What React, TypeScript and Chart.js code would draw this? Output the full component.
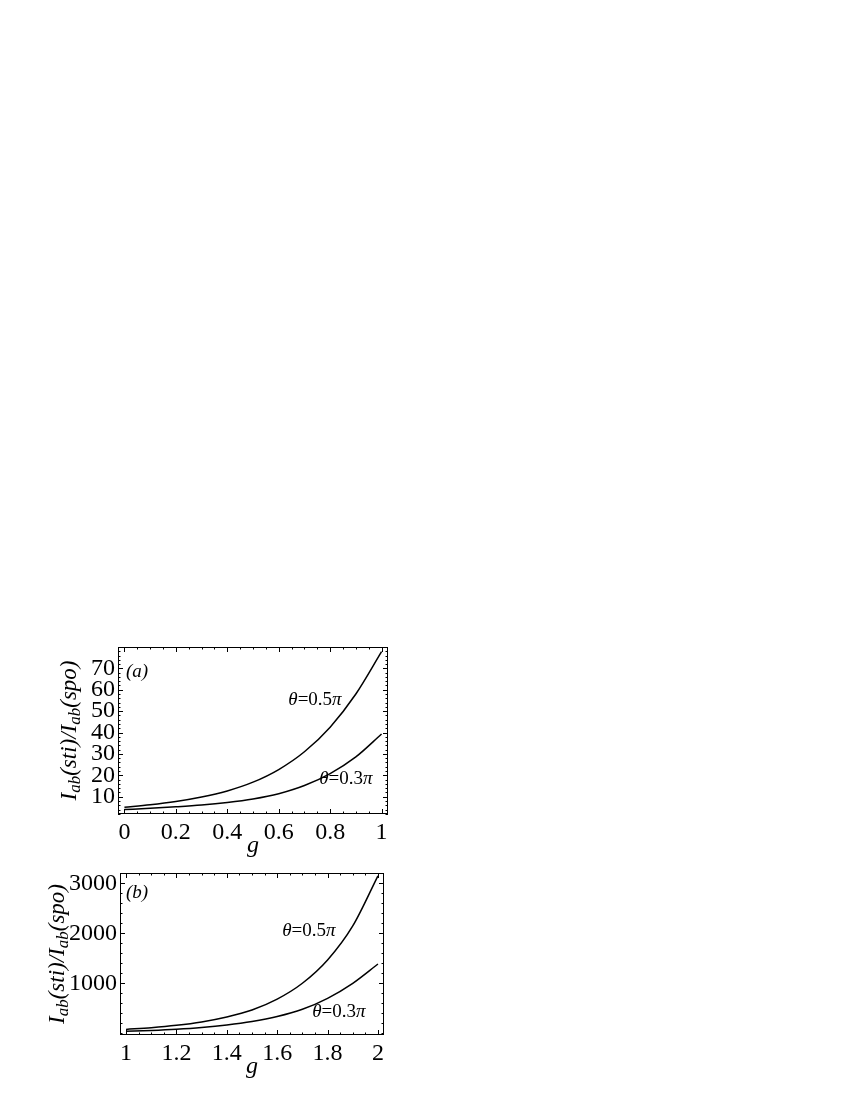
import React, { useEffect, useRef } from "react";
import { Chart, registerables } from "chart.js";

Chart.register(...registerables);

// ---------- data ----------
const gA = [0, 0.1, 0.2, 0.3, 0.4, 0.5, 0.6, 0.7, 0.8, 0.9, 1.0];
const upperA = [5.1, 6.2, 7.7, 9.8, 12.7, 16.8, 22.7, 31.0, 42.5, 58.0, 77.8];
const lowerA = [4.0, 4.55, 5.25, 6.1, 7.3, 8.95, 11.4, 15.2, 20.8, 28.6, 39.3];

const gB = [1.0, 1.1, 1.2, 1.3, 1.4, 1.5, 1.6, 1.7, 1.8, 1.9, 2.0];
const upperB = [78, 112, 160, 228, 327, 467, 684, 1001, 1467, 2148, 3150];
const lowerB = [39, 56, 80, 115, 165, 235, 335, 480, 700, 1000, 1386];

const xTicksA = [0, 0.2, 0.4, 0.6, 0.8, 1];
const xTickLabelsA = ["0", "0.2", "0.4", "0.6", "0.8", "1"];
const yTicksA = [10, 20, 30, 40, 50, 60, 70];
const yTickLabelsA = ["10", "20", "30", "40", "50", "60", "70"];

const xTicksB = [1, 1.2, 1.4, 1.6, 1.8, 2];
const xTickLabelsB = ["1", "1.2", "1.4", "1.6", "1.8", "2"];
const yTicksB = [1000, 2000, 3000];
const yTickLabelsB = ["1000", "2000", "3000"];

const seriesNames = ["θ=0.5π", "θ=0.3π"];
const panelNames = ["(a)", "(b)"];
const xTitle = "g";

// ---------- layout / style ----------
const FONT = "'Liberation Serif', 'Times New Roman', serif";
const TICK_SIZE = 24;

type Panel = {
  x: number[];
  series: number[][];
  xMin: number; xMax: number; yMin: number; yMax: number;
  xTicks: number[]; xLabels: string[]; xMinor: number;
  yTicks: number[]; yLabels: string[]; yMinor: number;
  name: string;
  namePos: [number, number];
  labelPos: [number, number][];
  top: number; height: number; padTop: number; padRight: number; yWidth: number; xHeight: number;
  yTitleX: number; gOffset: number;
};

const panels: Panel[] = [
  {
    x: gA, series: [upperA, lowerA],
    xMin: -0.025, xMax: 1.025, yMin: 1.9, yMax: 80,
    xTicks: xTicksA, xLabels: xTickLabelsA, xMinor: 0.05,
    yTicks: yTicksA, yLabels: yTickLabelsA, yMinor: 2,
    name: panelNames[0], namePos: [19, 25],
    labelPos: [[0.741, 55.3], [0.861, 18.4]],
    top: 625, height: 240, padTop: 22, padRight: 32, yWidth: 118, xHeight: 51,
    yTitleX: 76, gOffset: 38,
  },
  {
    x: gB, series: [upperB, lowerB],
    xMin: 0.976, xMax: 2.024, yMin: -34, yMax: 3206,
    xTicks: xTicksB, xLabels: xTickLabelsB, xMinor: 0.05,
    yTicks: yTicksB, yLabels: yTickLabelsB, yMinor: 200,
    name: panelNames[1], namePos: [17, 20],
    labelPos: [[1.726, 2046], [1.845, 426]],
    top: 865, height: 225, padTop: 8, padRight: 36, yWidth: 120, xHeight: 55,
    yTitleX: 64, gOffset: 38,
  },
];

const CANVAS_W = 420;

function drawSegments(ctx: CanvasRenderingContext2D, segs: { t: string; f: string; dy?: number }[], cx: number, cy: number) {
  let total = 0;
  for (const s of segs) { ctx.font = s.f; total += ctx.measureText(s.t).width; }
  let x = cx - total / 2;
  for (const s of segs) {
    ctx.font = s.f;
    ctx.fillText(s.t, x, cy + (s.dy || 0));
    x += ctx.measureText(s.t).width;
  }
}

function makePlugin(p: Panel) {
  return {
    id: "frameDeco",
    afterDatasetsDraw(chart: any) {
      const ctx: CanvasRenderingContext2D = chart.ctx;
      const { left, right, top, bottom } = chart.chartArea;
      const xs = chart.scales.x;
      const ys = chart.scales.y;
      ctx.save();
      ctx.strokeStyle = "#000";
      ctx.fillStyle = "#000";
      ctx.lineWidth = 1;
      ctx.strokeRect(Math.round(left) + 0.5, Math.round(top) + 0.5, Math.round(right - left) - 1, Math.round(bottom - top) - 1);

      const isMajor = (v: number, arr: number[], tol: number) => arr.some((m) => Math.abs(m - v) < tol);
      ctx.beginPath();
      const x0 = Math.ceil(p.xMin / p.xMinor) * p.xMinor;
      for (let v = x0; v <= p.xMax + 1e-9; v += p.xMinor) {
        const vv = Math.round(v * 1000) / 1000;
        const px = Math.round(xs.getPixelForValue(vv)) + 0.5;
        const len = isMajor(vv, p.xTicks, p.xMinor / 10) ? 5 : 2.5;
        ctx.moveTo(px, bottom); ctx.lineTo(px, bottom - len);
        ctx.moveTo(px, top); ctx.lineTo(px, top + len);
      }
      const y0 = Math.ceil(p.yMin / p.yMinor) * p.yMinor;
      for (let v = y0; v <= p.yMax + 1e-9; v += p.yMinor) {
        const py = Math.round(ys.getPixelForValue(v)) + 0.5;
        const len = isMajor(v, p.yTicks, p.yMinor / 10) ? 5 : 2.5;
        ctx.moveTo(left, py); ctx.lineTo(left + len, py);
        ctx.moveTo(right, py); ctx.lineTo(right - len, py);
      }
      ctx.stroke();

      ctx.textBaseline = "middle";
      ctx.textAlign = "left";
      drawSegments(ctx, [{ t: p.name, f: `italic 19px ${FONT}` }], left + p.namePos[0], top + p.namePos[1]);

      p.labelPos.forEach((lp, i) => {
        const name = seriesNames[i];
        const cx = xs.getPixelForValue(lp[0]);
        const cy = ys.getPixelForValue(lp[1]);
        const theta = name.slice(0, 1);
        const mid = name.slice(1, name.length - 1);
        const pi = name.slice(name.length - 1);
        drawSegments(ctx, [
          { t: theta, f: `italic 19px ${FONT}` },
          { t: mid, f: `19px ${FONT}` },
          { t: pi, f: `italic 19px ${FONT}` },
        ], cx, cy);
      });

      ctx.textBaseline = "alphabetic";
      drawSegments(ctx, [{ t: xTitle, f: `italic 24px ${FONT}` }], (left + right) / 2, bottom + p.gOffset);

      ctx.translate(p.yTitleX, (top + bottom) / 2);
      ctx.rotate(-Math.PI / 2);
      const big = `italic 23px ${FONT}`;
      const sub = `italic 17px ${FONT}`;
      drawSegments(ctx, [
        { t: "I", f: big },
        { t: "ab", f: sub, dy: 4 },
        { t: "(sti)/", f: big },
        { t: "I", f: big },
        { t: "ab", f: sub, dy: 4 },
        { t: "(spo)", f: big },
      ], 0, 0);
      ctx.restore();
    },
  };
}

function PanelChart({ p }: { p: Panel }) {
  const ref = useRef<HTMLCanvasElement | null>(null);
  useEffect(() => {
    if (!ref.current) return;
    const chart = new Chart(ref.current, {
      type: "line",
      data: {
        datasets: p.series.map((s) => ({
          data: p.x.map((g, i) => ({ x: g, y: s[i] })),
          borderColor: "#000",
          borderWidth: 1.5,
          pointRadius: 0,
          fill: false,
          cubicInterpolationMode: "monotone" as const,
        })),
      },
      options: {
        animation: false,
        responsive: false,
        maintainAspectRatio: false,
        layout: { padding: { top: p.padTop, right: p.padRight, left: 0, bottom: 0 } },
        plugins: { legend: { display: false }, tooltip: { enabled: false } },
        scales: {
          x: {
            type: "linear",
            min: p.xMin,
            max: p.xMax,
            grid: { display: false, drawTicks: false },
            border: { display: false },
            afterBuildTicks: (s: any) => { s.ticks = p.xTicks.map((v) => ({ value: v })); },
            afterFit: (s: any) => {
              s.height = p.xHeight;
              s.paddingLeft = 0; s.paddingRight = 0; s.paddingTop = 0; s.paddingBottom = 0;
            },
            ticks: {
              autoSkip: false,
              maxRotation: 0,
              padding: 4,
              color: "#000",
              font: { family: FONT, size: TICK_SIZE },
              callback: (_v: any, i: number) => p.xLabels[i],
            },
          },
          y: {
            type: "linear",
            min: p.yMin,
            max: p.yMax,
            grid: { display: false, drawTicks: false },
            border: { display: false },
            afterBuildTicks: (s: any) => { s.ticks = p.yTicks.map((v) => ({ value: v })); },
            afterFit: (s: any) => {
              s.width = p.yWidth;
              s.paddingLeft = 0; s.paddingRight = 0; s.paddingTop = 0; s.paddingBottom = 0;
            },
            ticks: {
              autoSkip: false,
              padding: 3,
              color: "#000",
              font: { family: FONT, size: TICK_SIZE },
              callback: (_v: any, i: number) => p.yLabels[i],
            },
          },
        },
      },
      plugins: [makePlugin(p)],
    } as any);
    return () => chart.destroy();
  }, [p]);
  return (
    <canvas
      ref={ref}
      width={CANVAS_W}
      height={p.height}
      style={{ position: "absolute", left: -8, top: p.top - 8, width: CANVAS_W, height: p.height }}
    />
  );
}

export default function App() {
  return (
    <div style={{ position: "relative", width: 834, height: 1084 }}>
      {panels.map((p, i) => (
        <PanelChart key={i} p={p} />
      ))}
    </div>
  );
}
